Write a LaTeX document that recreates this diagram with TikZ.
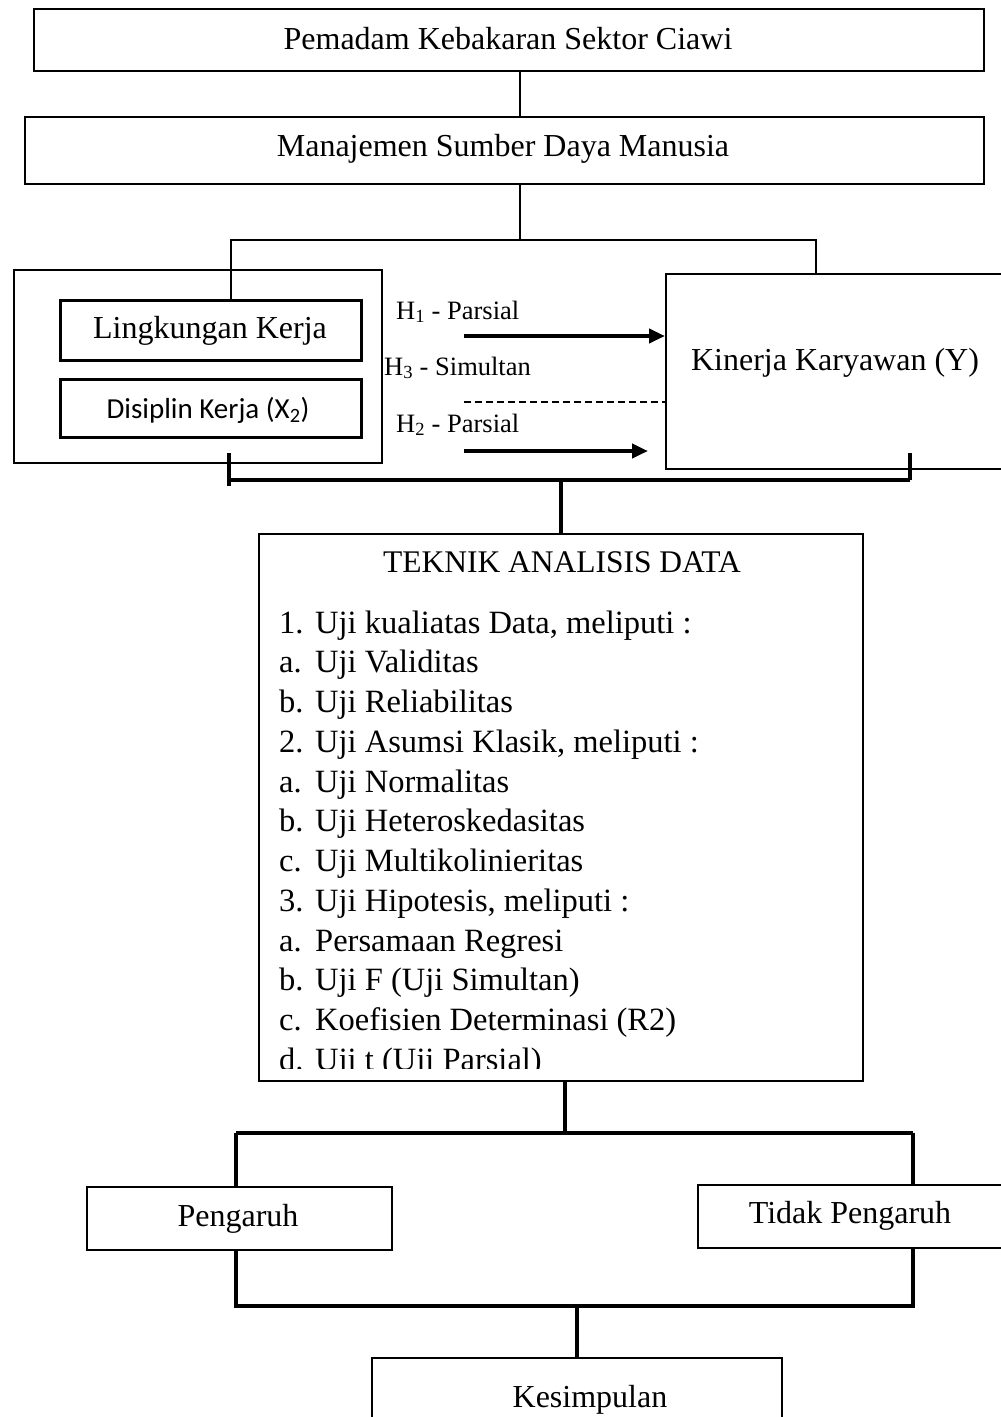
\documentclass[tikz,border=0pt]{standalone}
\usepackage{fontspec}
\setmainfont{Liberation Serif}
\newfontfamily\calibri{Carlito}
\usetikzlibrary{arrows.meta}
\begin{document}
\begin{tikzpicture}[x=1pt,y=-1pt,
  box/.style={draw, line width=2pt, rectangle, inner sep=0pt, anchor=north west},
  thinbox/.style={box, line width=1.6pt},
  txt/.style={inner sep=0pt, anchor=base, font=\fontsize{32}{38}\selectfont},
  ltxt/.style={inner sep=0pt, anchor=base west, font=\fontsize{32.5}{38}\selectfont},
  htxt/.style={inner sep=0pt, anchor=base west, font=\fontsize{26.5}{31}\selectfont},
  conn/.style={line width=2pt},
  heavy/.style={line width=4pt},
  arr/.style={line width=4pt, -{Triangle[length=16pt,width=14pt]}},
  dashline/.style={line width=1.6pt, dash pattern=on 7pt off 4pt}]
\clip (0,0) rectangle (1001,1417);
\fill[white] (0,0) rectangle (1001,1417);

% boxes
\node[box, minimum width=950pt, minimum height=62pt] (b1) at (33,8) {};
\node[box, minimum width=959pt, minimum height=67pt] (b2) at (24,116) {};
\node[thinbox, minimum width=368pt, minimum height=193pt] (outer) at (13,269) {};
\node[box, line width=3pt, minimum width=301pt, minimum height=60pt] (ling) at (59,299) {};
\node[box, line width=3pt, minimum width=301pt, minimum height=58pt] (disc) at (59,378) {};
\node[box, line width=2.4pt, minimum width=345pt, minimum height=195pt] (ybox) at (665,273) {};
\node[box, minimum width=604pt, minimum height=547pt] (tek) at (258,533) {};
\node[box, minimum width=305pt, minimum height=63pt] (peng) at (86,1186) {};
\node[box, minimum width=313pt, minimum height=63pt] (tidak) at (697,1184) {};
\node[box, minimum width=410pt, minimum height=80pt] (kes) at (371,1357) {};

% texts
\node[txt] (t1) at (508,49) {Pemadam Kebakaran Sektor Ciawi};
\node[txt] (t2) at (503,156) {Manajemen Sumber Daya Manusia};
\node[txt] (tl) at (210,338) {Lingkungan Kerja};
\node[txt, font=\calibri\fontsize{29}{34}\selectfont] (td) at (208,418) {Disiplin Kerja (X\textsubscript{2})};
\node[txt] (ty) at (835,370) {Kinerja Karyawan (Y)};
\node[htxt] (h1) at (396,319) {H\textsubscript{1} - Parsial};
\node[htxt] (h3) at (384,375) {H\textsubscript{3} - Simultan};
\node[htxt] (h2) at (396,432) {H\textsubscript{2} - Parsial};
\node[txt, font=\fontsize{31.5}{37}\selectfont] (tt) at (562,572) {TEKNIK ANALISIS DATA};
\node[txt] (tp) at (238,1226) {Pengaruh};
\node[txt] (ttp) at (850,1223) {Tidak Pengaruh};
\node[txt] (tk) at (590,1407) {Kesimpulan};

% list inside Teknik box (clipped at bottom)
\begin{scope}
\clip (258,533) rectangle (862,1068);
\foreach \i/\lab/\item in {
  0/1./Uji kualiatas Data{,} meliputi :,
  1/a./Uji Validitas,
  2/b./Uji Reliabilitas,
  3/2./Uji Asumsi Klasik{,} meliputi :,
  4/a./Uji Normalitas,
  5/b./Uji Heteroskedasitas,
  6/c./Uji Multikolinieritas,
  7/3./Uji Hipotesis{,} meliputi :,
  8/a./Persamaan Regresi,
  9/b./Uji F (Uji Simultan),
  10/c./Koefisien Determinasi (R2),
  11/d./Uji t (Uji Parsial)} {
  \node[ltxt] (lab\i) at (279,633+39.75*\i) {\lab};
  \node[ltxt] (itm\i) at (315,633+39.75*\i) {\item};
}
\end{scope}

% top connectors
\coordinate (c1) at (520,0);
\draw[conn] (b1.south -| c1) -- (b2.north -| c1);
\coordinate (j1) at (520,240);
\coordinate (jl) at (231,240);
\coordinate (jr) at (816,240);
\draw[conn] (b2.south -| c1) -- (j1);
\draw[conn] (ling.north -| jl) -- (jl) -- (jr) -- (ybox.north -| jr);

% hypothesis arrows
\coordinate (a1s) at (464,336);
\coordinate (a2s) at (464,451);
\coordinate (a2e) at (648,451);
\coordinate (ds) at (464,402);
\draw[arr] (a1s) -- (a1s -| ybox.west);
\draw[arr] (a2s) -- (a2e);
\draw[dashline] (ds) -- (ds -| ybox.west);

% lower bracket joining X and Y
\coordinate (bl) at (229,480);
\coordinate (br) at (910,480);
\coordinate (bm) at (561,480);
\draw[heavy] (229,453) -- (229,486);
\draw[heavy] (910,453) -- (br);
\draw[heavy] (bl) -- (br);
\draw[line width=3.2pt] (bm) -- (tek.north -| bm);

% Teknik to results
\coordinate (tm) at (565,1133);
\coordinate (pl) at (236,1133);
\coordinate (pr) at (913,1133);
\draw[line width=3.2pt] (tek.south -| tm) -- (tm);
\draw[heavy] (pl) -- (pr);
\draw[heavy] (pl) -- (peng.north -| pl);
\draw[heavy] (pr) -- (tidak.north -| pr);

% results to Kesimpulan
\coordinate (ql) at (236,1306);
\coordinate (qr) at (913,1306);
\coordinate (qm) at (577,1306);
\draw[heavy] (peng.south -| ql) -- (ql) -- (qr) -- (tidak.south -| qr);
\draw[line width=3.2pt] (qm) -- (kes.north -| qm);
\end{tikzpicture}
\end{document}
